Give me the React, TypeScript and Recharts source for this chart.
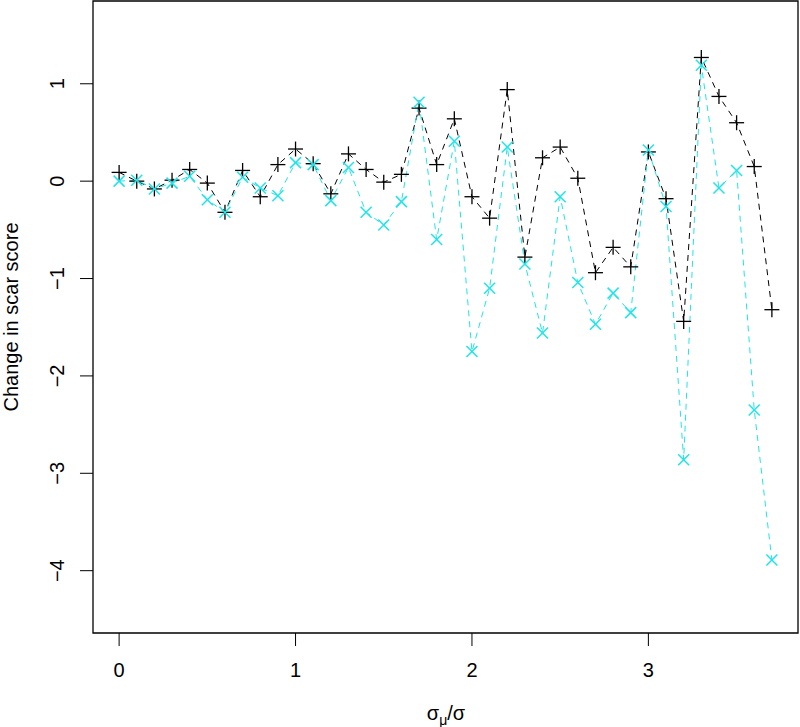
import React from 'react'
import {
  LineChart,
  Line,
  XAxis,
  YAxis,
  ReferenceArea,
  Label,
} from 'recharts'

// ─── data ────────────────────────────────────────────────

const X_VALUES = [
  0, 0.1, 0.2, 0.3, 0.4, 0.5, 0.6, 0.7, 0.8, 0.9,
  1, 1.1, 1.2, 1.3, 1.4, 1.5, 1.6, 1.7, 1.8, 1.9,
  2, 2.1, 2.2, 2.3, 2.4, 2.5, 2.6, 2.7, 2.8, 2.9,
  3, 3.1, 3.2, 3.3, 3.4, 3.5, 3.6, 3.7,
]

// black "+" series
const PLUS_VALUES = [
  0.09, 0.0, -0.08, 0.01, 0.12, -0.02, -0.32, 0.11, -0.16, 0.17,
  0.33, 0.18, -0.13, 0.28, 0.12, -0.01, 0.07, 0.75, 0.17, 0.64,
  -0.16, -0.38, 0.94, -0.78, 0.24, 0.35, 0.03, -0.94, -0.68, -0.88,
  0.3, -0.18, -1.44, 1.27, 0.87, 0.6, 0.15, -1.32,
]

// cyan "x" series
const CROSS_VALUES = [
  0.0, 0.01, -0.08, -0.02, 0.05, -0.19, -0.32, 0.04, -0.07, -0.15,
  0.19, 0.17, -0.2, 0.14, -0.32, -0.45, -0.21, 0.81, -0.6, 0.41,
  -1.75, -1.1, 0.35, -0.85, -1.56, -0.16, -1.04, -1.47, -1.15, -1.35,
  0.32, -0.26, -2.86, 1.19, -0.07, 0.11, -2.35, -3.89,
]

const X_TICKS = [0, 1, 2, 3]
const Y_TICKS = [-4, -3, -2, -1, 0, 1]

const X_DOMAIN: [number, number] = [-0.148, 3.848]
const Y_DOMAIN: [number, number] = [-4.64, 1.85]

const CYAN = '#22E4E8'
const FONT = '"Liberation Sans", Arial, sans-serif'
const FS = 20

const data = X_VALUES.map((x, i) => ({
  x,
  plus: PLUS_VALUES[i],
  cross: CROSS_VALUES[i],
}))

const fmt = (v: number) => (v < 0 ? `\u2212${Math.abs(v)}` : `${v}`)

// ─── markers ─────────────────────────────────────────────

function PlusDot(props: any) {
  const { cx, cy, index } = props
  const h = 7.5
  return (
    <g key={`p-${index}`}>
      <line x1={cx - h} y1={cy} x2={cx + h} y2={cy} stroke="#000" strokeWidth={1.3} />
      <line x1={cx} y1={cy - h} x2={cx} y2={cy + h} stroke="#000" strokeWidth={1.3} />
    </g>
  )
}

function CrossDot(props: any) {
  const { cx, cy, index } = props
  const h = 5.5
  return (
    <g key={`c-${index}`}>
      <line x1={cx - h} y1={cy - h} x2={cx + h} y2={cy + h} stroke={CYAN} strokeWidth={1.5} />
      <line x1={cx - h} y1={cy + h} x2={cx + h} y2={cy - h} stroke={CYAN} strokeWidth={1.5} />
    </g>
  )
}

// ─── ticks ───────────────────────────────────────────────

function XTick(props: any) {
  const { x, payload } = props
  return (
    <text x={x} y={677} textAnchor="middle" fontFamily={FONT} fontSize={FS} fill="#000">
      {fmt(payload.value)}
    </text>
  )
}

function YTick(props: any) {
  const { y, payload } = props
  return (
    <text
      transform={`translate(64, ${y}) rotate(-90)`}
      textAnchor="middle"
      fontFamily={FONT}
      fontSize={FS}
      fill="#000"
    >
      {fmt(payload.value)}
    </text>
  )
}

export default function App() {
  return (
    <div style={{ position: 'absolute', left: 0, top: 0, background: '#fff' }}>
      <LineChart
        width={800}
        height={727}
        data={data}
        margin={{ top: 1, right: 2, left: 0, bottom: 0 }}
      >
        <XAxis
          dataKey="x"
          type="number"
          domain={X_DOMAIN}
          ticks={X_TICKS}
          allowDataOverflow
          height={94}
          axisLine={false}
          tickSize={13}
          tickMargin={0}
          tickLine={{ stroke: '#000' }}
          tick={<XTick />}
        >
          <Label
            content={() => (
              <text x={446} y={720} textAnchor="middle" fontFamily={FONT} fontSize={FS} fill="#000">
                σ
                <tspan fontSize={14} dy={5}>μ</tspan>
                <tspan dy={-5}>/σ</tspan>
              </text>
            )}
          />
        </XAxis>
        <YAxis
          type="number"
          domain={Y_DOMAIN}
          ticks={Y_TICKS}
          allowDataOverflow
          width={93}
          axisLine={false}
          tickSize={13}
          tickMargin={0}
          tickLine={{ stroke: '#000' }}
          tick={<YTick />}
        >
          <Label
            content={() => (
              <text
                transform="translate(18, 317) rotate(-90)"
                textAnchor="middle"
                fontFamily={FONT}
                fontSize={FS}
                fill="#000"
              >
                Change in scar score
              </text>
            )}
          />
        </YAxis>
        <ReferenceArea
          x1={X_DOMAIN[0]}
          x2={X_DOMAIN[1]}
          y1={Y_DOMAIN[0]}
          y2={Y_DOMAIN[1]}
          fill="none"
          stroke="#000"
          strokeWidth={1.3}
          ifOverflow="visible"
        />
        <Line
          dataKey="plus"
          stroke="#000"
          strokeWidth={1}
          strokeDasharray="6 5"
          dot={(p: any) => <PlusDot {...p} />}
          activeDot={false}
          isAnimationActive={false}
        />
        <Line
          dataKey="cross"
          stroke={CYAN}
          strokeWidth={1}
          strokeDasharray="6 5"
          dot={(p: any) => <CrossDot {...p} />}
          activeDot={false}
          isAnimationActive={false}
        />
      </LineChart>
    </div>
  )
}
